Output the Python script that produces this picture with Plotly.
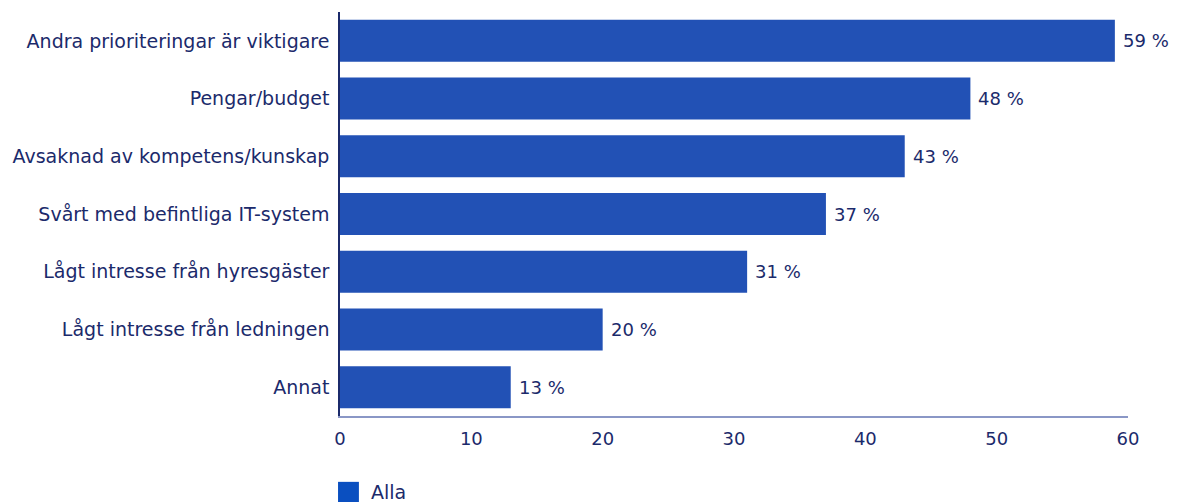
import plotly.graph_objects as go

categories = [
    "Andra prioriteringar är viktigare",
    "Pengar/budget",
    "Avsaknad av kompetens/kunskap",
    "Svårt med befintliga IT-system",
    "Lågt intresse från hyresgäster",
    "Lågt intresse från ledningen",
    "Annat",
]
values = [59, 48, 43, 37, 31, 20, 13]
series_name = "Alla"
x_ticks = [0, 10, 20, 30, 40, 50, 60]

BAR = "#2251b5"
TEXT = "#1b2a6b"
FONT = "DejaVu Sans"
SIZE = 19

fig = go.Figure()
fig.add_trace(go.Bar(
    y=categories,
    x=values,
    orientation="h",
    name=series_name,
    marker=dict(color=BAR, line=dict(width=0)),
    showlegend=False,
    hoverinfo="skip",
))

# value labels just past each bar end
for cat, v in zip(categories, values):
    fig.add_annotation(
        x=v, y=cat, text=f"{v} %", showarrow=False,
        xanchor="left", yanchor="middle", xshift=6,
        font=dict(family=FONT, size=SIZE - 1, color=TEXT),
    )

# legend key drawn as a square plus label below the axis
fig.add_shape(
    type="rect", xref="paper", yref="paper",
    x0=-0.0025, x1=0.024, y0=-0.163, y1=-0.213,
    fillcolor="#0a4fc0", line=dict(width=0),
)
fig.add_annotation(
    xref="paper", yref="paper", x=0.037, y=-0.188,
    text=series_name, showarrow=False, xanchor="left", yanchor="middle",
    font=dict(family=FONT, size=SIZE, color=TEXT),
)

fig.update_layout(
    width=1179, height=502,
    margin=dict(l=340, r=51, t=12, b=86),
    paper_bgcolor="white", plot_bgcolor="white",
    bargap=0.272,
    font=dict(family=FONT, size=SIZE, color=TEXT),
    xaxis=dict(
        range=[0, 60], tickvals=x_ticks, showgrid=False, zeroline=False,
        showline=True, linecolor="#8a97c6", linewidth=1.5,
        ticks="", ticklabelstandoff=6,
        tickfont=dict(family=FONT, size=SIZE - 1, color=TEXT),
    ),
    yaxis=dict(
        categoryorder="array", categoryarray=categories[::-1],
        range=[-0.5, 6.5], showgrid=False, zeroline=False,
        showline=True, linecolor=TEXT, linewidth=1.5,
        ticks="", ticklabelstandoff=5,
        tickfont=dict(family=FONT, size=SIZE, color=TEXT),
    ),
)

fig.write_html("out.html")
